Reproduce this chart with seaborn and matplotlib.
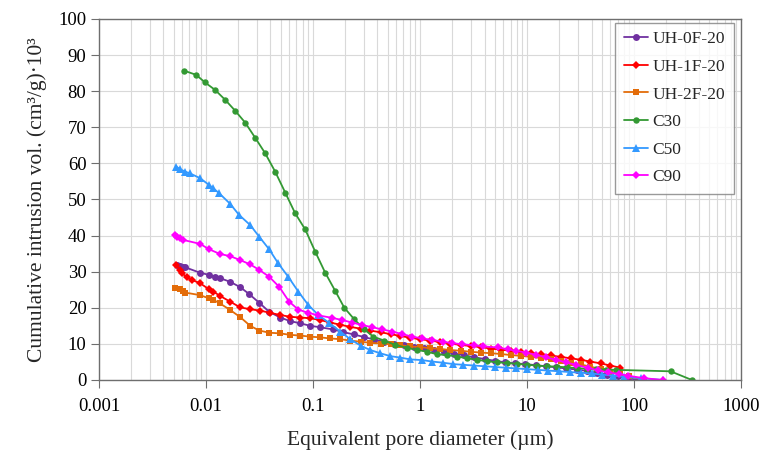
import matplotlib
matplotlib.use("Agg")
import matplotlib.pyplot as plt
from matplotlib.ticker import LogLocator, FixedLocator, FixedFormatter, NullFormatter
import seaborn as sns

# Pore diameter (µm) and cumulative intrusion volume (cm3/g x 1e3) per mix
uh0_x = [0.00537, 0.0057, 0.0061, 0.0064, 0.0088, 0.0107, 0.0122, 0.0135, 0.0168, 0.0209,
         0.0253, 0.0314, 0.0389, 0.0493, 0.0612, 0.0759, 0.0942, 0.1167, 0.154, 0.19,
         0.24, 0.30, 0.37, 0.46, 0.57, 0.71, 0.88, 1.09, 1.35, 1.68,
         2.08, 2.6, 3.2, 4.0, 5.0, 6.2, 7.7, 9.6, 12, 15,
         18.6, 23, 29, 36, 45, 56, 70, 87, 110]
uh0_y = [31.9, 31.6, 31.4, 31.2, 29.7, 29.1, 28.6, 28.2, 27.2, 25.7,
         23.8, 21.4, 18.9, 17.3, 16.3, 15.7, 15.0, 14.6, 14.0, 13.3,
         12.6, 11.9, 11.2, 10.6, 10.1, 9.6, 9.2, 8.8, 8.3, 7.8,
         7.3, 6.8, 6.3, 5.8, 5.3, 4.9, 4.6, 4.4, 4.1, 3.8,
         3.5, 3.2, 2.9, 2.5, 2.0, 1.5, 1.0, 0.5, 0.0]

uh1_x = [0.0053, 0.0057, 0.0060, 0.0066, 0.0074, 0.0088, 0.0107, 0.0117, 0.0135, 0.0168,
         0.0209, 0.0259, 0.0321, 0.0398, 0.0493, 0.0612, 0.0759, 0.0942, 0.1167, 0.145,
         0.18, 0.223, 0.28, 0.34, 0.43, 0.53, 0.65, 0.81, 1.0, 1.25,
         1.55, 1.9, 2.4, 3.0, 3.7, 4.6, 5.7, 7.0, 8.7, 10.8,
         13.4, 16.6, 20.6, 25.5, 31.6, 39, 48.5, 60, 74]
uh1_y = [31.9, 30.5, 29.6, 28.4, 27.7, 26.8, 25.1, 24.5, 23.3, 21.7,
         20.1, 19.6, 19.2, 18.6, 18.0, 17.5, 17.3, 17.1, 16.6, 15.9,
         15.3, 14.7, 14.2, 13.7, 13.2, 12.7, 12.2, 11.7, 11.3, 10.9,
         10.5, 10.1, 9.7, 9.4, 9.1, 8.7, 8.4, 8.1, 7.8, 7.5,
         7.1, 6.8, 6.4, 6.0, 5.6, 5.1, 4.6, 4.0, 3.4]

uh2_x = [0.0051, 0.0057, 0.0061, 0.0064, 0.0088, 0.0107, 0.0117, 0.0135, 0.0168, 0.0209,
         0.0259, 0.0314, 0.0389, 0.0493, 0.0612, 0.0759, 0.0942, 0.1167, 0.145, 0.18,
         0.223, 0.28, 0.34, 0.43, 0.53, 0.65, 0.81, 1.0, 1.25, 1.55,
         1.9, 2.4, 3.0, 3.7, 4.6, 5.7, 7.0, 8.7, 10.8, 13.4,
         16.6, 20.6, 25.5, 31.6, 39, 48.5, 60, 74, 90, 123]
uh2_y = [25.4, 25.1, 24.7, 24.2, 23.5, 22.6, 22.2, 21.2, 19.4, 17.4,
         15.0, 13.7, 13.1, 12.9, 12.5, 12.3, 12.0, 11.8, 11.5, 11.3,
         10.9, 10.6, 10.3, 10.1, 9.9, 9.6, 9.3, 9.1, 8.8, 8.6,
         8.3, 8.1, 7.8, 7.6, 7.4, 7.2, 6.9, 6.7, 6.4, 6.1,
         5.7, 5.3, 4.8, 4.3, 3.7, 3.0, 2.3, 1.6, 1.0, 0.0]

c30_x = [0.0062, 0.0081, 0.0098, 0.0122, 0.0151, 0.0187, 0.0232, 0.0288, 0.0357, 0.0443,
         0.055, 0.068, 0.0845, 0.105, 0.130, 0.161, 0.196, 0.243, 0.301, 0.366,
         0.463, 0.587, 0.76, 0.944, 1.17, 1.45, 1.8, 2.23, 2.76, 3.4,
         4.2, 5.2, 6.5, 8.0, 10, 12.3, 15.2, 19, 23.5, 29,
         36, 44, 55, 68, 219, 346]
c30_y = [85.7, 84.5, 82.4, 80.3, 77.6, 74.6, 71.3, 67.1, 62.8, 57.7,
         51.9, 46.2, 41.7, 35.5, 29.7, 24.7, 20.0, 16.8, 14.0, 12.0,
         10.9, 9.7, 8.9, 8.3, 7.8, 7.1, 6.9, 6.5, 6.0, 5.6,
         5.2, 4.9, 4.7, 4.5, 4.2, 4.0, 3.8, 3.7, 3.5, 3.3,
         3.1, 3.0, 2.9, 2.8, 2.4, 0.0]

c50_x = [0.0053, 0.0057, 0.0064, 0.0071, 0.0088, 0.0107, 0.0117, 0.0133, 0.0168, 0.0204,
         0.0259, 0.0314, 0.0389, 0.0473, 0.0586, 0.0728, 0.0902, 0.112, 0.140, 0.18,
         0.223, 0.282, 0.343, 0.425, 0.528, 0.654, 0.81, 1.05, 1.3, 1.62,
         2.05, 2.54, 3.2, 4.0, 5.0, 6.3, 7.9, 10, 12.6, 15.8,
         20, 25, 32, 40, 50, 63, 80, 115, 186]
c50_y = [59.1, 58.4, 57.7, 57.2, 55.9, 54.0, 53.1, 51.7, 48.8, 45.7,
         42.9, 39.7, 36.2, 32.3, 28.6, 24.5, 20.8, 18.0, 15.9, 13.4,
         11.3, 9.4, 8.3, 7.4, 6.6, 6.2, 5.7, 5.5, 5.1, 4.8,
         4.4, 4.2, 4.0, 3.8, 3.6, 3.4, 3.2, 3.0, 2.8, 2.6,
         2.4, 2.2, 2.0, 1.8, 1.5, 1.2, 0.9, 0.5, 0.0]

c90_x = [0.0051, 0.0054, 0.0057, 0.0061, 0.0088, 0.0107, 0.0135, 0.0168, 0.0209, 0.0259,
         0.0314, 0.0389, 0.0483, 0.0598, 0.0728, 0.090, 0.112, 0.151, 0.187, 0.233,
         0.288, 0.358, 0.444, 0.551, 0.682, 0.847, 1.05, 1.30, 1.62, 2.0,
         2.49, 3.16, 3.9, 5.3, 6.6, 7.8, 9.7, 12.0, 14.9, 18.5,
         22.9, 28.4, 36.7, 45.6, 56.5, 71.6, 87, 123, 186]
c90_y = [40.2, 39.7, 39.2, 38.8, 37.7, 36.2, 34.9, 34.3, 33.2, 32.0,
         30.5, 28.6, 25.8, 21.7, 19.5, 18.6, 17.9, 17.2, 16.6, 15.9,
         15.2, 14.6, 14.0, 13.4, 12.7, 12.0, 11.5, 11.1, 10.6, 10.2,
         9.9, 9.6, 9.3, 9.0, 8.5, 8.1, 7.6, 7.0, 6.3, 5.6,
         4.9, 4.2, 3.4, 2.7, 2.1, 1.7, 1.2, 0.5, 0.0]

labels = ["UH-0F-20", "UH-1F-20", "UH-2F-20", "C30", "C50", "C90"]
colors = ["#7030A0", "#FF0000", "#E36C09", "#339933", "#3399FF", "#FF00FF"]
markers = ["o", "D", "s", "o", "^", "D"]
msizes = [5.0, 4.2, 5.0, 4.6, 6.0, 4.2]

xticks = [0.001, 0.01, 0.1, 1, 10, 100, 1000]
xtick_labels = ["0.001", "0.01", "0.1", "1", "10", "100", "1000"]
yticks = [0, 10, 20, 30, 40, 50, 60, 70, 80, 90, 100]

sns.set_theme(style="white")
plt.rcParams["font.family"] = ["Liberation Serif", "DejaVu Serif"]

fig, ax = plt.subplots(figsize=(7.61, 4.5), dpi=100)
fig.subplots_adjust(left=0.130, right=0.974, bottom=0.1556, top=0.958)

data = [(uh0_x, uh0_y), (uh1_x, uh1_y), (uh2_x, uh2_y),
        (c30_x, c30_y), (c50_x, c50_y), (c90_x, c90_y)]
for (xs, ys), lab, col, mk, ms in zip(data, labels, colors, markers, msizes):
    sns.lineplot(x=xs, y=ys, ax=ax, color=col, marker=mk, markersize=ms,
                 markeredgewidth=0, linewidth=1.3, label=lab, sort=False,
                 errorbar=None)

ax.set_xscale("log")
ax.set_xlim(0.001, 1000)
ax.set_ylim(0, 100)
ax.xaxis.set_major_locator(FixedLocator(xticks))
ax.xaxis.set_major_formatter(FixedFormatter(xtick_labels))
ax.xaxis.set_minor_locator(LogLocator(base=10, subs=range(2, 10)))
ax.xaxis.set_minor_formatter(NullFormatter())
ax.set_yticks(yticks)

ax.grid(axis="x", which="both", color="#d9d9d9", linewidth=0.8)
ax.grid(axis="y", which="major", color="#d9d9d9", linewidth=0.8)
ax.set_axisbelow(True)

for sp in ax.spines.values():
    sp.set_color("#6e6e6e")
    sp.set_linewidth(1.0)

ax.tick_params(axis="both", which="major", direction="out", length=6, width=0.8,
               color="#6e6e6e", labelsize=13.5, labelcolor="black")
ax.tick_params(axis="x", which="major", pad=7)
ax.tick_params(axis="y", which="major", pad=3)
ax.tick_params(axis="x", which="minor", length=0)
ax.tick_params(bottom=True, left=True)

ax.set_xlabel("Equivalent pore diameter (µm)", fontsize=15.5, labelpad=11)
ax.set_ylabel("Cumulative intrusion vol. (cm³/g)·10³", fontsize=15.5, labelpad=8)

leg = ax.legend(loc="upper right", bbox_to_anchor=(0.988, 0.99), frameon=True,
                fancybox=False, edgecolor="#808080", fontsize=12.5,
                labelspacing=0.66, handlelength=1.4, handletextpad=0.25,
                borderpad=0.5, borderaxespad=0.0)
leg.get_frame().set_linewidth(1.0)

fig.savefig("out.png", dpi=100)
